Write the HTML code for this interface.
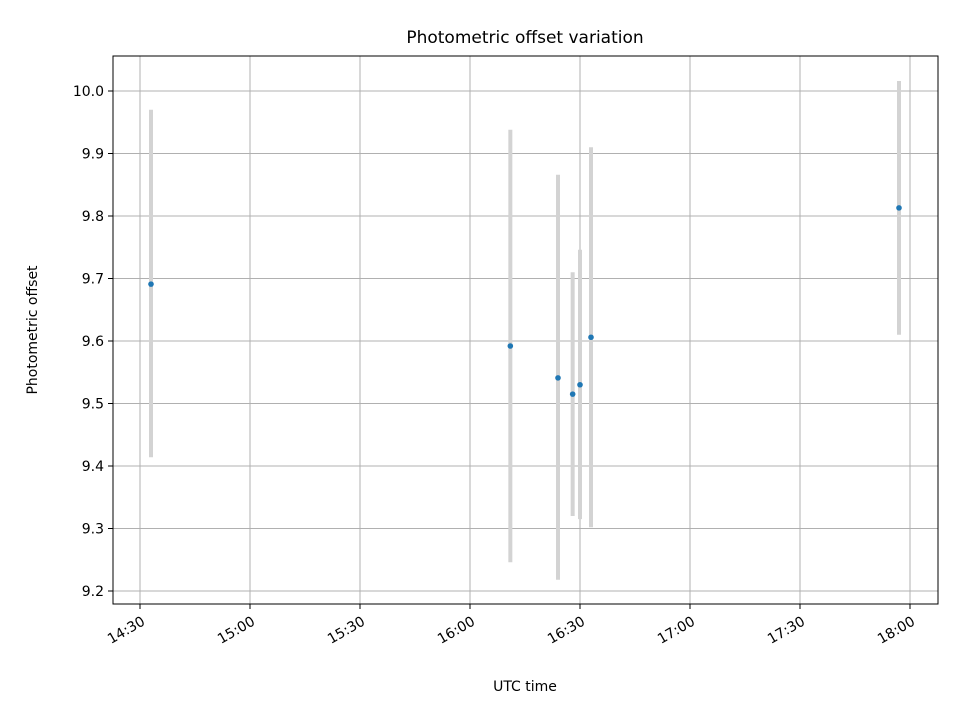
<!DOCTYPE html>
<html><head><meta charset="utf-8"><style>body{margin:0;background:#fff}svg{font-family:"DejaVu Sans","Liberation Sans",sans-serif}</style></head>
<body>
<svg id="chart" width="960" height="720" viewBox="0 0 960 720" xmlns="http://www.w3.org/2000/svg">
<rect width="960" height="720" fill="#fff"/>
<text x="525" y="43" font-size="17" text-anchor="middle">Photometric offset variation</text>
<g id="grid"></g><g id="bars"></g><g id="pts"></g><g id="ticks"></g>
<rect x="113" y="56" width="825" height="548" fill="none" stroke="#000" stroke-width="1"/>
<text x="525" y="691" font-size="14" text-anchor="middle">UTC time</text>
<text transform="translate(37,330) rotate(-90)" font-size="14" text-anchor="middle">Photometric offset</text>
</svg>
<script>
const times=["14:33","16:11","16:24","16:28","16:30","16:33","17:57"];
const offsets=[9.691,9.592,9.541,9.515,9.530,9.606,9.813];
const errLow=[9.414,9.246,9.218,9.320,9.315,9.302,9.610];
const errHigh=[9.970,9.938,9.866,9.710,9.746,9.910,10.016];
const xTickLabels=["14:30","15:00","15:30","16:00","16:30","17:00","17:30","18:00"];
const yTickLabels=["9.2","9.3","9.4","9.5","9.6","9.7","9.8","9.9","10.0"];
const NS="http://www.w3.org/2000/svg";
function mins(t){const p=t.split(":");return +p[0]*60+ +p[1];}
const x0=mins("14:30");
function xs(t){return 140+(mins(t)-x0)*110/30;}
function ys(v){return 591-(v-9.2)*625;}
function mk(tag,attrs,parent){const e=document.createElementNS(NS,tag);for(const k in attrs)e.setAttribute(k,attrs[k]);document.getElementById(parent).appendChild(e);return e;}
xTickLabels.forEach(l=>{const x=xs(l);
 const g=mk("line",{x1:x,x2:x,y1:56,y2:604,stroke:"#b0b0b0","stroke-width":1},"grid");
 
 
 const t=mk("line",{x1:x,x2:x,y1:604,y2:609,stroke:"#000"},"ticks");
 
 
 const ax=x+6, ay=624;
 const tx=mk("text",{x:ax,y:ay,"font-size":14,"text-anchor":"end",transform:`rotate(-30 ${ax} ${ay})`},"ticks");
 tx.textContent=l;
 
 
});
yTickLabels.forEach(l=>{const y=ys(+l);
 const g=mk("line",{x1:113,x2:938,y1:y,y2:y,stroke:"#b0b0b0","stroke-width":1},"grid");
 
 
 const t=mk("line",{x1:108,x2:113,y1:y,y2:y,stroke:"#000"},"ticks");
 
 
 const tx=mk("text",{x:104,y:y+5,"font-size":14,"text-anchor":"end"},"ticks");
 tx.textContent=l;
 
 
});
times.forEach((t,i)=>{const x=xs(t);
 const b=mk("line",{x1:x,x2:x,y1:ys(errHigh[i]),y2:ys(errLow[i]),stroke:"#d3d3d3","stroke-width":4},"bars");
 
 
 const c=mk("circle",{cx:x,cy:ys(offsets[i]),r:2.8,fill:"#1f77b4"},"pts");
 
 
});
</script>
</body></html>
